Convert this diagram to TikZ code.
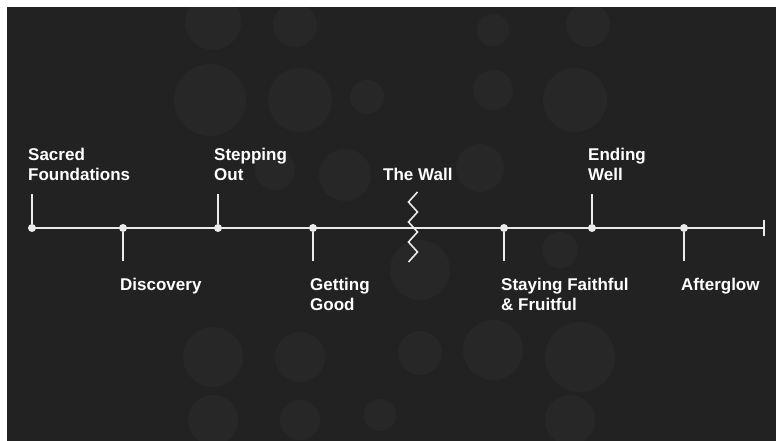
\documentclass[tikz,border=0pt]{standalone}
\usepackage{fontspec}
\setmainfont{Liberation Sans}
\usetikzlibrary{arrows.meta}
\definecolor{bg}{HTML}{222222}
\definecolor{chalk}{HTML}{EBEBEB}

\begin{document}
\begin{tikzpicture}[x=1pt, y=-1pt,
	dot/.style={circle, fill=chalk, inner sep=0pt, minimum size=8pt},
	tick/.style={draw=chalk, line width=1.6pt},
	label/.style={text=white, font=\bfseries\fontsize{17}{20}\selectfont, align=left, inner sep=0pt, anchor=base west}]
	\useasboundingbox (0,0) rectangle (776,441);
	\fill[white] (0,0) rectangle (776,441);
	\fill[bg] (7,7) rectangle (776,441);
	% faint bokeh circles
	\begin{scope}
	  \clip (7,7) rectangle (776,441);
	  \foreach \x/\y/\r in {213/22/28, 295/25/22, 588/25/22, 493/30/16,
	                         210/100/36, 300/100/32, 367/97/17, 493/90/20, 575/100/32,
	                         345/175/26, 480/168/24, 275/170/20, 420/270/30, 560/250/18,
	                         213/357/30, 300/357/25, 420/353/22, 493/350/30, 580/357/35,
	                         213/420/25, 300/420/20, 380/415/16, 570/420/25}{
	    \fill[white, opacity=0.022] (\x,\y) circle (\r pt);
	  }
	\end{scope}
	% milestones above the line
	\foreach \x/\n/\t in {32/found/{Sacred\\Foundations}, 218/stepping/{Stepping\\Out}, 592/ending/{Ending\\Well}}{
	  \node[dot] (\n) at (\x,228) {};
	  \coordinate (\n-end) at (\x,194);
	  \draw[tick] (\n) -- (\n-end);
	  \node[label] (\n-text) at (\x-4,180) {\t};
	}
	% milestones below the line
	\foreach \x/\n/\y/\t in {123/discovery/290/{Discovery}, 313/getting/310/{Getting\\Good}, 504/staying/310/{Staying Faithful\\\& Fruitful}, 684/afterglow/290/{Afterglow}}{
	  \node[dot] (\n) at (\x,228) {};
	  \coordinate (\n-end) at (\x,261);
	  \draw[tick] (\n) -- (\n-end);
	  \node[label] (\n-text) at (\x-3,\y) {\t};
	}
	% the line itself
	\coordinate (tail) at (764.8,228);
	\draw[tick, -{Bar[width=16pt, line width=1.6pt]}] (found.center) -- (tail);
	% the wall
	\coordinate (wall) at (413,228);
	\draw[tick] plot coordinates {(417.5,192) (408.5,202) (417.5,212) (408.5,222) (417.5,232) (408.5,242) (417.5,252) (408.5,262)};
	\node[label] (wall-text) at (383,180) {The Wall};
\end{tikzpicture}
\end{document}
